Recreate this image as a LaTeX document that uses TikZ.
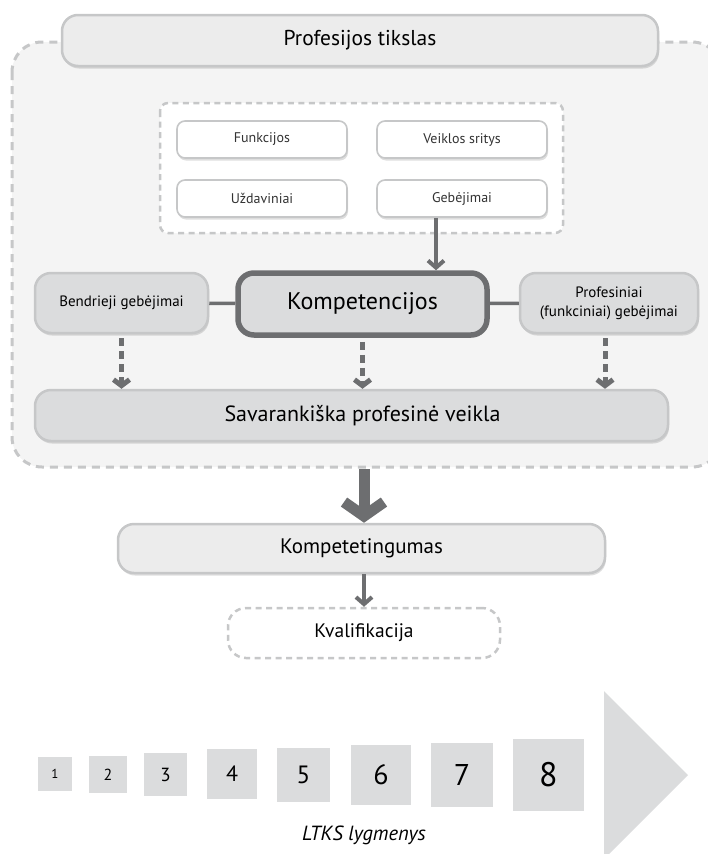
\documentclass[tikz,border=0pt]{standalone}
\usepackage{fontspec}
\setmainfont{PT Sans}
\usetikzlibrary{arrows.meta,shadows}

\definecolor{boxline}{HTML}{C6C7C8}
\definecolor{darkline}{HTML}{6D6E70}
\definecolor{panel}{HTML}{F4F4F4}
\definecolor{lightfill}{HTML}{ECECEC}
\definecolor{midfill}{HTML}{DBDCDD}

\tikzset{
	softshadow/.style={drop shadow={shadow xshift=1pt,shadow yshift=-2.5pt,opacity=0.13,fill=black}},
	dashline/.style={draw=boxline,line width=3pt,dash pattern=on 8pt off 6pt},
	roundbox/.style={draw=boxline,line width=2.5pt,rounded corners=16pt,align=center,inner sep=0pt,softshadow},
	itembox/.style={draw=boxline,line width=1.6pt,fill=white,rounded corners=8pt,inner sep=0pt,
		minimum width=170pt,minimum height=37pt,font=\fontsize{14}{16}\selectfont,text=black!80,softshadow},
	levelbox/.style={fill=midfill,inner sep=0pt},
	linkarrow/.style={draw=darkline,line width=4pt,-{Straight Barb[length=7pt,width=16pt]}},
	dasharrow/.style={draw=darkline,line width=5pt,dash pattern=on 8pt off 5pt,-{Straight Barb[length=6pt,width=16pt]}},
	bigarrow/.style={draw=darkline,line width=11pt,-{Straight Barb[length=14pt,width=40pt]}}
}

\begin{document}
\begin{tikzpicture}[x=1pt,y=-1pt]
	\useasboundingbox (0,0) rectangle (708,854);

	% Outer panel behind the goal
	\draw[dashline,fill=panel,rounded corners=30pt] (12,42) rectangle (722,467);
	\node[roundbox,fill=lightfill,minimum width=596pt,minimum height=51pt,
		font=\fontsize{21.5}{25}\selectfont] (tikslas) at (360,40.5) {Profesijos tikslas};

	% Group of four items
	\draw[dashline,line width=2.5pt,dash pattern=on 6pt off 4.5pt,fill=white,rounded corners=8pt]
		(160,103) rectangle (563,233);
	\node[itembox] (funk) at (262,139.5) {Funkcijos};
	\node[itembox] (sritys) at (462,139.5) {Veiklos sritys};
	\node[itembox] (uzd) at (262,198.5) {Uždaviniai};
	\node[itembox] (geb) at (462,198.5) {Gebėjimai};

	% Competences row
	\node[roundbox,fill=midfill,minimum width=173pt,minimum height=60pt,
		font=\fontsize{15}{18}\selectfont] (bendr) at (121.5,303) {Bendrieji gebėjimai};
	\node[roundbox,draw=darkline,line width=5.5pt,fill=midfill,minimum width=249pt,minimum height=62pt,
		font=\fontsize{24}{28}\selectfont] (komp) at (362.5,304) {Kompetencijos};
	\node[roundbox,fill=midfill,minimum width=178pt,minimum height=60pt,
		font=\fontsize{15}{19}\selectfont] (prof) at (609,303) {Profesiniai\\(funkciniai) gebėjimai};
	\draw[darkline,line width=3.5pt] (bendr) -- (komp);
	\draw[darkline,line width=3.5pt] (komp) -- (prof);
	\draw[linkarrow] ([xshift=-26pt]geb.south) -- ([xshift=-26pt]geb.south |- komp.north);

	\node[roundbox,fill=midfill,minimum width=633pt,minimum height=51pt,
		font=\fontsize{22}{26}\selectfont] (veikla) at (351.5,415.5) {\hspace*{22pt}Savarankiška profesinė veikla};
	\draw[dasharrow] ([yshift=-4pt]bendr.south) -- (bendr.south |- veikla.north);
	\draw[dasharrow] ([yshift=-4pt]komp.south) -- (komp.south |- veikla.north);
	\draw[dasharrow] ([xshift=-4pt,yshift=-4pt]prof.south) -- ([xshift=-4pt]prof.south |- veikla.north);

	% Result
	\coordinate (panelout) at (364,469);
	\node[roundbox,fill=lightfill,minimum width=487pt,minimum height=49pt,
		font=\fontsize{21}{25}\selectfont] (kompet) at (361.5,548.5) {Kompetetingumas};
	\node[dashline,line width=2.5pt,dash pattern=on 6pt off 4.5pt,fill=white,rounded corners=18pt,
		inner sep=0pt,minimum width=272pt,minimum height=50pt,
		font=\fontsize{19.5}{23}\selectfont] (kval) at (364,633) {Kvalifikacija};
	\draw[bigarrow] (panelout) -- (panelout |- kompet.north);
	\draw[linkarrow] ([xshift=2.5pt]kompet.south) -- ([xshift=2.5pt]kompet.south |- kval.north);

	% LTKS levels
	\fill[midfill] (604,691) -- (688,775) -- (604,859) -- cycle;
	\foreach \n/\cx/\cy/\w/\h/\fs in {1/55/774/34/34/13, 2/108/774.5/38/37/16, 3/165.5/774.5/43/43/19,
		4/232/774/50/50/22, 5/303.5/775/53/54/25, 6/381/775/60/60/28, 7/462/775/62/64/30, 8/548.5/775/71/72/34}
		\node[levelbox,minimum width=\w pt,minimum height=\h pt,font=\fontsize{\fs}{\fs}\selectfont]
			(lvl\n) at (\cx,\cy) {\n};
	\node[font=\fontsize{20.5}{24}\selectfont\itshape] (lygmenys) at (364,835) {LTKS lygmenys};

\end{tikzpicture}
\end{document}
